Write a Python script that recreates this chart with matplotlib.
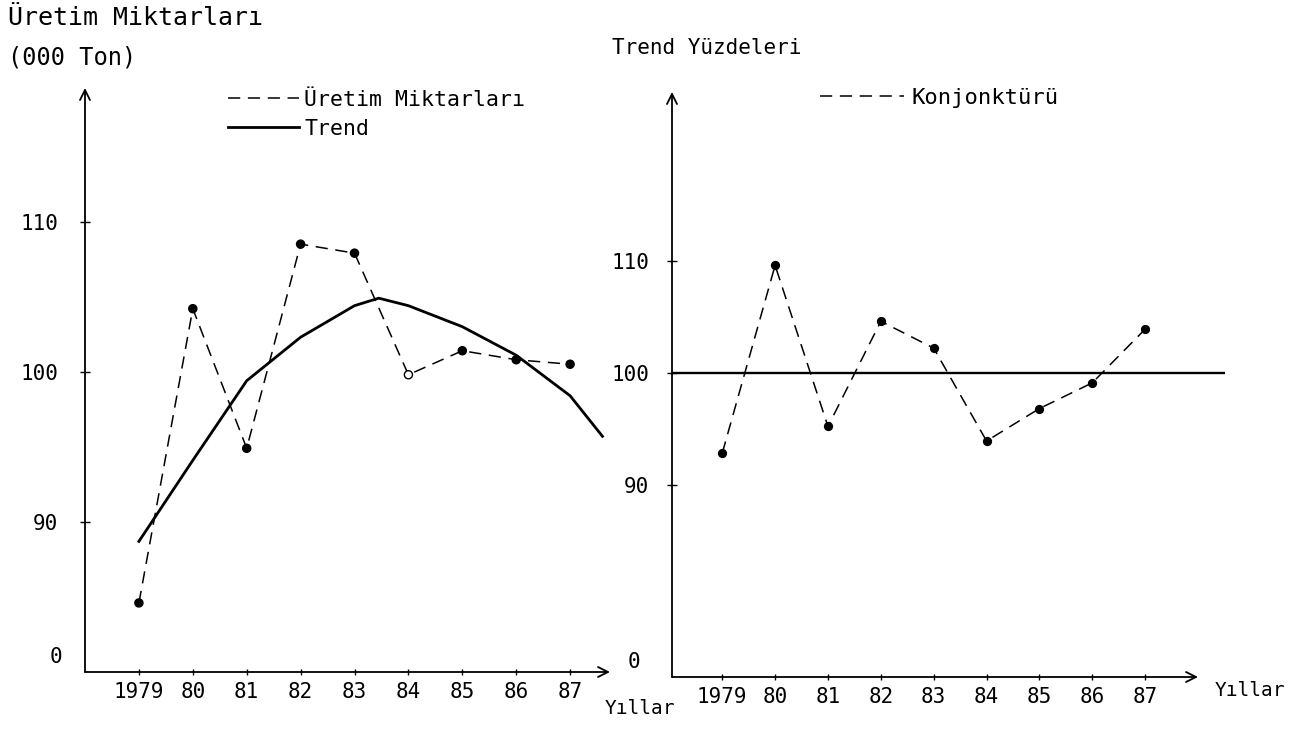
import matplotlib.pyplot as plt

plt.rcParams['font.family'] = ['DejaVu Sans Mono', 'DejaVu Sans']

# data
years = [1979, 1980, 1981, 1982, 1983, 1984, 1985, 1986, 1987]
year_labels = ['1979', '80', '81', '82', '83', '84', '85', '86', '87']

uretim = [84.6, 104.2, 94.9, 108.5, 107.9, 99.8, 101.4, 100.8, 100.5]
trend_x = [1979, 1980, 1981, 1982, 1983, 1983.45, 1984, 1985, 1986, 1987, 1987.6]
trend_y = [88.7, 94.1, 99.4, 102.3, 104.4, 104.9, 104.4, 103.0, 101.1, 98.4, 95.7]

konjonktur = [92.8, 109.6, 95.2, 104.6, 102.2, 93.9, 96.8, 99.1, 103.9]

yticks = [90, 100, 110]
ytick_labels = ['90', '100', '110']

W, H = 1301, 737
fig = plt.figure(figsize=(W / 100, H / 100), dpi=100)


def px_axes(x0, x1, ytop, ybot):
    """axes placed by pixel box (y measured from top)"""
    return fig.add_axes([x0 / W, 1 - ybot / H, (x1 - x0) / W, (ybot - ytop) / H])


def fig_text(x, y, s, **kw):
    fig.text(x / W, 1 - y / H, s, va='center', ha='left', **kw)


def draw_axes(ax, x_end, zero_dx, ypad):
    for sp in ax.spines.values():
        sp.set_visible(False)
    arrow = dict(arrowstyle='->', lw=1.3, color='k', mutation_scale=18,
                 shrinkA=0, shrinkB=0)
    ax.annotate('', xy=(0, 1), xytext=(0, 0), xycoords='axes fraction',
                textcoords='axes fraction', arrowprops=arrow)
    ax.annotate('', xy=(x_end, 0), xytext=(0, 0),
                xycoords=('data', 'axes fraction'),
                textcoords='axes fraction', arrowprops=arrow)
    ax.set_yticks(yticks, ytick_labels)
    ax.set_xticks(years, year_labels)
    ax.tick_params(axis='y', direction='inout', length=7, width=1,
                   labelsize=15, pad=ypad)
    ax.tick_params(axis='x', direction='inout', length=4, width=1,
                   labelsize=15, pad=5)
    ax.annotate('0', xy=(0, 0), xycoords='axes fraction',
                xytext=(zero_dx, 15), textcoords='offset pixels',
                ha='right', va='center', fontsize=15)
    ax.patch.set_visible(False)


# left panel: production and trend
ax1 = px_axes(85, 610, 88, 672)
ax1.set_xlim(1978.0, 1987.74)
ax1.set_ylim(80, 118.9)

dot_face = ['k', 'k', 'k', 'k', 'k', 'white', 'k', 'k', 'k']
ax1.plot(years, uretim, color='k', lw=1.1, dashes=(8, 5),
         label='Üretim Miktarları')
ax1.scatter(years, uretim, s=34, c=dot_face, edgecolors='k', linewidths=1,
            zorder=3)
ax1.plot(trend_x, trend_y, color='k', lw=2.0, label='Trend')
draw_axes(ax1, 1987.74, -23, 16)

ax1.legend(loc='upper left', bbox_to_anchor=(228 / W, 1 - 90 / H),
           bbox_transform=fig.transFigure, frameon=False, fontsize=15.5,
           handlelength=3.3, handletextpad=0.25, labelspacing=0.4,
           borderpad=0, borderaxespad=0)

# right panel: cyclical component as % of trend
ax2 = px_axes(672, 1225, 92, 677)
ax2.set_xlim(1978.05, 1988.51)
ax2.set_ylim(72.8, 125.1)

ax2.axhline(100, color='k', lw=1.7)
ax2.plot(years, konjonktur, color='k', lw=1.1, dashes=(8, 5),
         label='Konjonktürü')
ax2.scatter(years, konjonktur, s=32, c='k', zorder=3)
draw_axes(ax2, 1988.0, -32, 13)

ax2.legend(loc='upper left', bbox_to_anchor=(820 / W, 1 - 88 / H),
           bbox_transform=fig.transFigure, frameon=False, fontsize=16,
           handlelength=3.8, handletextpad=0.3, borderpad=0, borderaxespad=0)

fig_text(8, 18, 'Üretim Miktarları', fontsize=18)
fig_text(8, 57, '(000 Ton)', fontsize=17)
fig_text(612, 48, 'Trend Yüzdeleri', fontsize=15)
fig_text(605, 708, 'Yıllar', fontsize=14)
fig_text(1215, 690, 'Yıllar', fontsize=14)

fig.savefig('out.png', dpi=100)
